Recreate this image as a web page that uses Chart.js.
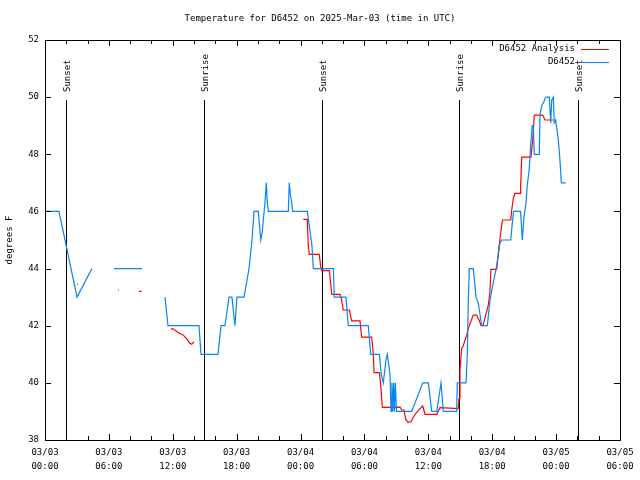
<!DOCTYPE html>
<html>
<head>
<meta charset="utf-8">
<script src="https://cdn.jsdelivr.net/npm/chart.js@4/dist/chart.umd.min.js"></script>
<style>
  html, body { margin: 0; padding: 0; background: #fff; }
  canvas { display: block; }
</style>
</head>
<body>
<canvas id="myChart" width="640" height="480"></canvas>
<script>
// time axis: hours since 03/03 00:00 UTC, null temp = gap in the record
var obsHours = [
  0.00, 1.31, 3.01, 4.41, 5.40,
  6.48, 9.11, 10.20,
  11.27, 11.55, 14.46, 14.65, 16.25, 16.53, 16.90, 17.28, 17.56, 17.84, 18.03, 18.69,
  19.16, 19.44, 19.63, 20.03, 20.26, 20.41, 20.50, 20.66, 20.78, 20.88, 20.97,
  22.85, 22.94, 23.04, 23.17, 23.26, 24.63, 24.75, 24.89, 25.07, 25.20,
  27.08, 27.17, 28.27, 28.48, 30.36, 30.59, 31.40, 31.58, 31.77, 32.02, 32.15, 32.40,
  32.50, 32.58, 32.66, 32.74, 32.82, 32.90, 33.01, 34.44, 35.47, 36.00, 36.32, 36.79,
  37.19, 37.41, 38.66, 38.72, 39.54, 39.66, 39.75, 39.85, 40.22, 40.48, 40.69, 40.85,
  41.01, 41.54, 41.79, 42.10, 42.42, 42.73, 42.89, 43.74, 43.89, 44.00, 44.66, 44.83,
  44.98, 45.17, 45.29, 45.48, 45.61, 45.76, 45.86, 45.95, 46.42, 46.49, 46.65, 46.86,
  47.02, 47.36, 47.49, 47.59, 47.74, 47.83, 47.96, 48.21, 48.36, 48.49, 48.90
];
var obsTemps = [
  46, 46, 43, 44, null,
  44, 44, null,
  43, 42, 42, 41, 41, 42, 42, 43, 43, 42, 43, 43,
  44, 45, 46, 46, 45, 45.3, 45.7, 46.3, 47, 46.3, 46,
  46, 47, 46.6, 46.3, 46, 46, 45.7, 45.3, 44.8, 44,
  44, 43, 43, 42, 42, 41, 41, 40.3, 40, 40.8, 41, 40.3,
  39, 40, 39, 40, 39, 40, 39, 39, 40, 40, 39, 39,
  40, 39, 39, 40, 40, 41, 42.8, 44, 44, 43, 42.8, 42.4,
  42, 42, 42.9, 43.5, 44.1, 44.9, 45, 45, 45.6, 46, 46, 45,
  45.8, 46.3, 46.9, 47.5, 48.3, 49, 49, 48, 48, 49.4, 49.7, 49.85,
  50, 50, 49.1, 49.9, 50, 49.1, 49.2, 48.5, 47.8, 47, 47
];

var anaHours = [
  3.01, 3.10, 4.00,
  6.86, 6.95, 7.90,
  8.83, 9.08, 10.40,
  11.83, 11.99, 12.37, 12.68, 12.99, 13.36, 13.55, 13.78, 13.99, 19.00,
  24.26, 24.63, 24.73, 24.82, 25.76, 25.89, 25.99, 26.70, 26.83, 26.93, 27.70, 27.86,
  28.01, 28.58, 28.80, 29.58, 29.74, 30.68, 30.83, 30.90, 31.40, 31.53, 31.68, 33.34,
  33.50, 33.72, 33.87, 34.09, 34.37, 34.75, 35.22, 35.47, 35.69, 36.79, 37.10, 38.81,
  38.88, 38.97, 39.13, 39.28, 39.60, 39.75, 39.98, 40.22, 40.54, 40.79, 40.95, 41.13,
  41.63, 41.79, 41.88, 42.42, 42.64, 42.89, 42.98, 43.74, 43.83, 43.98, 44.14, 44.61,
  44.67, 44.77, 45.64, 45.80, 45.95, 46.74, 46.96, 47.74
];
var anaTemps = [
  43.45, 43.45, null,
  43.25, 43.25, null,
  43.2, 43.2, null,
  41.88, 41.9, 41.8, 41.73, 41.67, 41.52, 41.4, 41.35, 41.44, null,
  45.72, 45.72, 44.8, 44.5, 44.5, 44.07, 43.93, 43.93, 43.48, 43.1, 43.1, 42.9,
  42.55, 42.55, 42.17, 42.17, 41.6, 41.6, 41.03, 40.36, 40.36, 39.93, 39.14, 39.15,
  39.05, 39.05, 38.73, 38.62, 38.65, 38.9, 39.1, 39.19, 38.9, 38.9, 39.13, 39.1,
  39.46, 40.45, 41.2, 41.3, 41.67, 41.9, 42.14, 42.37, 42.37, 42.18, 42.0, 42.0,
  42.72, 43.19, 43.97, 43.97, 44.77, 45.52, 45.7, 45.7, 46.05, 46.46, 46.63, 46.63,
  46.93, 47.9, 47.9, 48.5, 49.37, 49.37, 49.2, 49.2
];

var sunHours = [1.97, 14.93, 26.01, 38.88, 50.06];
var sunLabels = ['Sunset', 'Sunrise', 'Sunset', 'Sunrise', 'Sunset'];

var titleText = 'Temperature for D6452 on 2025-Mar-03 (time in UTC)';
var yTitle = 'degrees F';
var FONT = '9px "DejaVu Sans Mono"';
var BLUE = '#0a84f0';
var RED = '#ff0000';

function pad2(n) { return (n < 10 ? '0' : '') + n; }

function toPoints(xs, ys) {
  return xs.map(function (h, i) { return { x: h, y: ys[i] }; });
}

var extras = {
  id: 'extras',
  beforeDatasetsDraw: function (chart) {
    var ctx = chart.ctx, xs = chart.scales.x, area = chart.chartArea;
    ctx.save();
    ctx.strokeStyle = '#000';
    ctx.lineWidth = 1;
    ctx.fillStyle = '#000';
    ctx.font = FONT;
    sunHours.forEach(function (h, i) {
      var px = Math.round(xs.getPixelForValue(h)) + 0.5;
      ctx.beginPath();
      ctx.moveTo(px, area.top + 60);
      ctx.lineTo(px, area.bottom);
      ctx.stroke();
      ctx.save();
      ctx.translate(px + 1, area.top + 52);
      ctx.rotate(-Math.PI / 2);
      ctx.textAlign = 'left';
      ctx.textBaseline = 'middle';
      ctx.fillText(sunLabels[i], 0, 0);
      ctx.restore();
    });
    ctx.restore();
  },
  afterDraw: function (chart) {
    var ctx = chart.ctx, xs = chart.scales.x, ys = chart.scales.y, a = chart.chartArea;
    ctx.save();
    ctx.strokeStyle = '#000';
    ctx.lineWidth = 1;
    // frame
    ctx.strokeRect(Math.round(a.left) + 0.5, Math.round(a.top) + 0.5,
      Math.round(a.right - a.left), Math.round(a.bottom - a.top));
    // tics, pointing inward, mirrored
    ctx.beginPath();
    for (var h = 0; h <= 54; h += 2) {
      var px = Math.round(xs.getPixelForValue(h)) + 0.5;
      var len = (h % 6 === 0) ? 6 : 4;
      ctx.moveTo(px, a.bottom); ctx.lineTo(px, a.bottom - len);
      ctx.moveTo(px, a.top); ctx.lineTo(px, a.top + len);
    }
    for (var t = 38; t <= 52; t += 2) {
      var py = Math.round(ys.getPixelForValue(t)) + 0.5;
      ctx.moveTo(a.left, py); ctx.lineTo(a.left + 6, py);
      ctx.moveTo(a.right, py); ctx.lineTo(a.right - 6, py);
    }
    ctx.stroke();

    ctx.fillStyle = '#000';
    ctx.font = FONT;
    ctx.textAlign = 'center';
    ctx.textBaseline = 'middle';
    ctx.fillText(titleText, 320, 19);

    ctx.save();
    ctx.translate(10, (a.top + a.bottom) / 2);
    ctx.rotate(-Math.PI / 2);
    ctx.fillText(yTitle, 0, 0);
    ctx.restore();

    // key, top right
    var ds = chart.data.datasets;
    var keys = [ds[1], ds[0]];
    ctx.textAlign = 'right';
    keys.forEach(function (d, i) {
      var y = a.top + 9 + i * 13;
      ctx.fillStyle = '#000';
      ctx.fillText(d.label, a.right - 45, y);
      ctx.strokeStyle = d.borderColor;
      ctx.beginPath();
      ctx.moveTo(a.right - 39, Math.round(y) + 0.5);
      ctx.lineTo(a.right - 11, Math.round(y) + 0.5);
      ctx.stroke();
    });
    ctx.restore();
  }
};

var node = document.getElementById('myChart');
new Chart(node, {
  type: 'line',
  data: {
    datasets: [
      {
        label: 'D6452',
        data: toPoints(obsHours, obsTemps),
        borderColor: BLUE,
        borderWidth: 1.2,
        pointRadius: 0,
        tension: 0,
        spanGaps: false,
        order: 1
      },
      {
        label: 'D6452 Analysis',
        data: toPoints(anaHours, anaTemps),
        borderColor: RED,
        borderWidth: 1.2,
        pointRadius: 0,
        tension: 0,
        spanGaps: false,
        order: 2
      }
    ]
  },
  options: {
    responsive: false,
    animation: false,
    layout: { padding: { left: 0, right: 20, top: 40, bottom: 0 } },
    plugins: { legend: { display: false }, tooltip: { enabled: false } },
    scales: {
      x: {
        type: 'linear',
        min: 0,
        max: 54,
        afterFit: function (s) { s.height = 40; s.paddingLeft = 0; s.paddingRight = 0; },
        grid: { display: false, drawTicks: false },
        border: { display: false },
        ticks: {
          stepSize: 6,
          autoSkip: false,
          maxRotation: 0,
          padding: 6,
          color: '#000',
          font: { family: 'DejaVu Sans Mono', size: 9, lineHeight: 1.56 },
          callback: function (v) {
            var day = 3 + Math.floor(v / 24);
            return ['03/' + pad2(day), pad2(v % 24) + ':00'];
          }
        }
      },
      y: {
        min: 38,
        max: 52,
        afterFit: function (s) { s.width = 45; },
        grid: { display: false, drawTicks: false },
        border: { display: false },
        ticks: {
          stepSize: 2,
          padding: 6,
          color: '#000',
          font: { family: 'DejaVu Sans Mono', size: 9 }
        }
      }
    }
  },
  plugins: [extras]
});
</script>
</body>
</html>
